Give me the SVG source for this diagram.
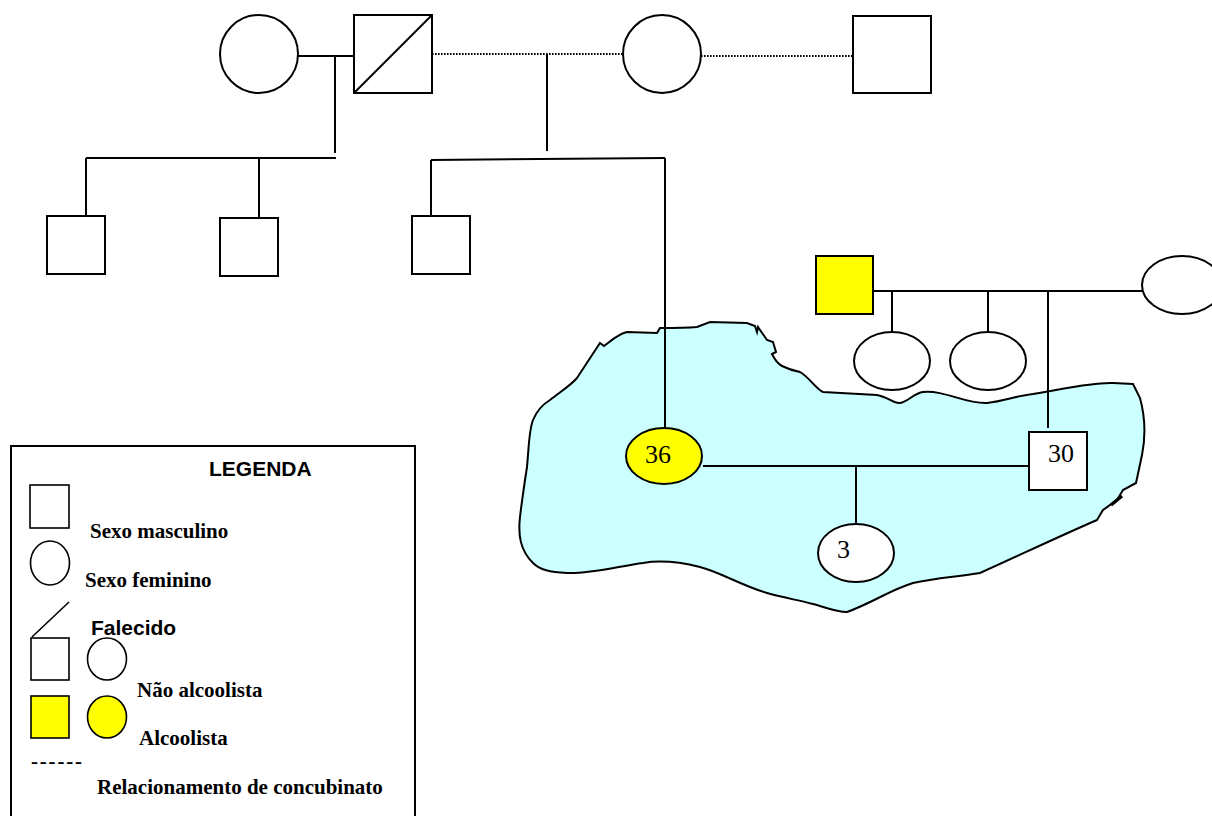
<svg xmlns="http://www.w3.org/2000/svg" width="1212" height="816" viewBox="0 0 1212 816">
  <style>
    .n { fill: #ffffff; stroke: #000000; stroke-width: 2; }
    .a { fill: #ffff00; stroke: #000000; stroke-width: 2; }
    .ln { fill: none; stroke: #000000; stroke-width: 2; }
    .dot { fill: none; stroke: #000000; stroke-width: 2; stroke-dasharray: 1.6 1.4; }
    .age { font-family: "Liberation Serif", "Times New Roman", serif; font-size: 26px; fill: #000; }
    .lt { font-family: "Liberation Serif", "Times New Roman", serif; font-size: 21px; font-weight: bold; fill: #000; }
    .ls { font-family: "Liberation Sans", Arial, sans-serif; font-size: 21px; font-weight: bold; fill: #000; }
  </style>

  <!-- household area -->
  <g id="household">
    <path d="M600,343 L604,346 C612,340 618,334 627,332 L657,333 L660,328 C675,328 685,328 697,327 L710,322 L747,323 L755,326 L757,332 L758,327 L767,340 L773,342 L776,352 L772,354 C775,360 778,364 782,366 C790,370 795,371 800,372 C810,378 815,388 823,392 L877,395 C888,397 894,404 900,403 C908,402 914,393 923,392 C945,390 965,404 987,403 C1005,401 1015,396 1033,394 C1060,390 1090,382 1113,383 L1133,384 L1140,398 C1146,420 1145,440 1142,455 L1136,483 L1123,490 L1117,500 L1103,510 L1097,520 C1060,536 1020,555 980,573 C955,577 935,578 913,583 C890,590 872,603 847,612 C835,612 825,607 813,604 C798,600 785,598 767,593 C740,585 720,572 700,567 C680,562 660,560 643,563 C620,566 590,574 567,573 C550,572 540,570 533,563 C520,550 518,535 520,517 C522,500 525,480 527,467 C529,445 529,430 533,420 C538,408 545,403 550,400 C560,392 570,386 577,378 Z" fill="#ccffff" stroke="#000" stroke-width="2"/>
    <line x1="1111" y1="505" x2="1122" y2="496" stroke="#000" stroke-width="3.5"/>
  </g>

  <!-- connectors -->
  <g id="connectors">
    <line class="ln" x1="298" y1="56" x2="354" y2="56"/>
    <line class="ln" x1="335" y1="56" x2="335" y2="153"/>
    <line class="ln" x1="86" y1="158" x2="336" y2="158"/>
    <line class="ln" x1="86" y1="158" x2="86" y2="216"/>
    <line class="ln" x1="259" y1="158" x2="259" y2="218"/>
    <line class="dot" x1="432" y1="54" x2="623" y2="54"/>
    <line class="dot" x1="701" y1="56" x2="853" y2="56"/>
    <line class="ln" x1="547" y1="54" x2="547" y2="151"/>
    <line class="ln" x1="431" y1="160" x2="665" y2="158"/>
    <line class="ln" x1="431" y1="160" x2="431" y2="216"/>
    <line class="ln" x1="665" y1="158" x2="665" y2="428"/>
    <line class="ln" x1="873" y1="291" x2="1143" y2="291"/>
    <line class="ln" x1="892" y1="291" x2="892" y2="332"/>
    <line class="ln" x1="988" y1="291" x2="988" y2="332"/>
    <line class="ln" x1="1048" y1="291" x2="1048" y2="428"/>
    <line class="ln" x1="703" y1="466" x2="1029" y2="466"/>
    <line class="ln" x1="856" y1="466" x2="856" y2="524"/>
  </g>

  <!-- first generation -->
  <g id="gm1"><circle class="n" cx="259" cy="54" r="39"/></g>
  <g id="gf1">
    <rect class="n" x="354" y="15" width="78" height="78"/>
    <line class="ln" x1="354" y1="93" x2="432" y2="15"/>
  </g>
  <g id="gm2"><circle class="n" cx="662" cy="54" r="39"/></g>
  <g id="gf2"><rect class="n" x="853" y="16" width="78" height="77"/></g>

  <!-- second generation -->
  <g id="son1"><rect class="n" x="47" y="216" width="58" height="58"/></g>
  <g id="son2"><rect class="n" x="220" y="218" width="58" height="58"/></g>
  <g id="son3"><rect class="n" x="412" y="216" width="58" height="58"/></g>
  <g id="mother">
    <ellipse class="a" cx="664" cy="456" rx="38" ry="28"/>
    <text class="age" x="645" y="463">36</text>
  </g>

  <!-- partner's family -->
  <g id="pgf"><rect class="a" x="816" y="256" width="57" height="58"/></g>
  <g id="pgm"><ellipse class="n" cx="1182" cy="285" rx="40" ry="29"/></g>
  <g id="sis1"><ellipse class="n" cx="892" cy="361" rx="38" ry="29"/></g>
  <g id="sis2"><ellipse class="n" cx="988" cy="361" rx="38" ry="29"/></g>
  <g id="partner">
    <rect class="n" x="1029" y="432" width="58" height="58"/>
    <text class="age" x="1048" y="462">30</text>
  </g>
  <g id="daughter">
    <ellipse class="n" cx="856" cy="553" rx="38" ry="29"/>
    <text class="age" x="837" y="558">3</text>
  </g>

  <!-- key -->
  <g id="legend">
    <rect x="11" y="446" width="404" height="380" fill="#fff" stroke="#000" stroke-width="2"/>
    <text class="ls" x="209" y="476">LEGENDA</text>
    <rect x="30" y="485" width="39" height="43" fill="#fff" stroke="#000" stroke-width="1.6"/>
    <text class="lt" x="90" y="538">Sexo masculino</text>
    <ellipse cx="50" cy="563" rx="19.5" ry="22" fill="#fff" stroke="#000" stroke-width="1.6"/>
    <text class="lt" x="85" y="587">Sexo feminino</text>
    <line x1="32" y1="637" x2="69" y2="602" stroke="#000" stroke-width="1.6"/>
    <text class="ls" x="91" y="635">Falecido</text>
    <rect x="31" y="638" width="38" height="42" fill="#fff" stroke="#000" stroke-width="1.6"/>
    <ellipse cx="107" cy="659" rx="19.5" ry="21" fill="#fff" stroke="#000" stroke-width="1.6"/>
    <text class="lt" x="137" y="697">Não alcoolista</text>
    <rect x="31" y="696" width="38" height="42" fill="#ffff00" stroke="#000" stroke-width="1.6"/>
    <ellipse cx="107" cy="717" rx="19.5" ry="21" fill="#ffff00" stroke="#000" stroke-width="1.6"/>
    <text class="lt" x="139" y="745">Alcoolista</text>
    <text class="lt" x="31" y="768" textLength="51" lengthAdjust="spacing">------</text>
    <text class="lt" x="97" y="794">Relacionamento de concubinato</text>
  </g>
</svg>
